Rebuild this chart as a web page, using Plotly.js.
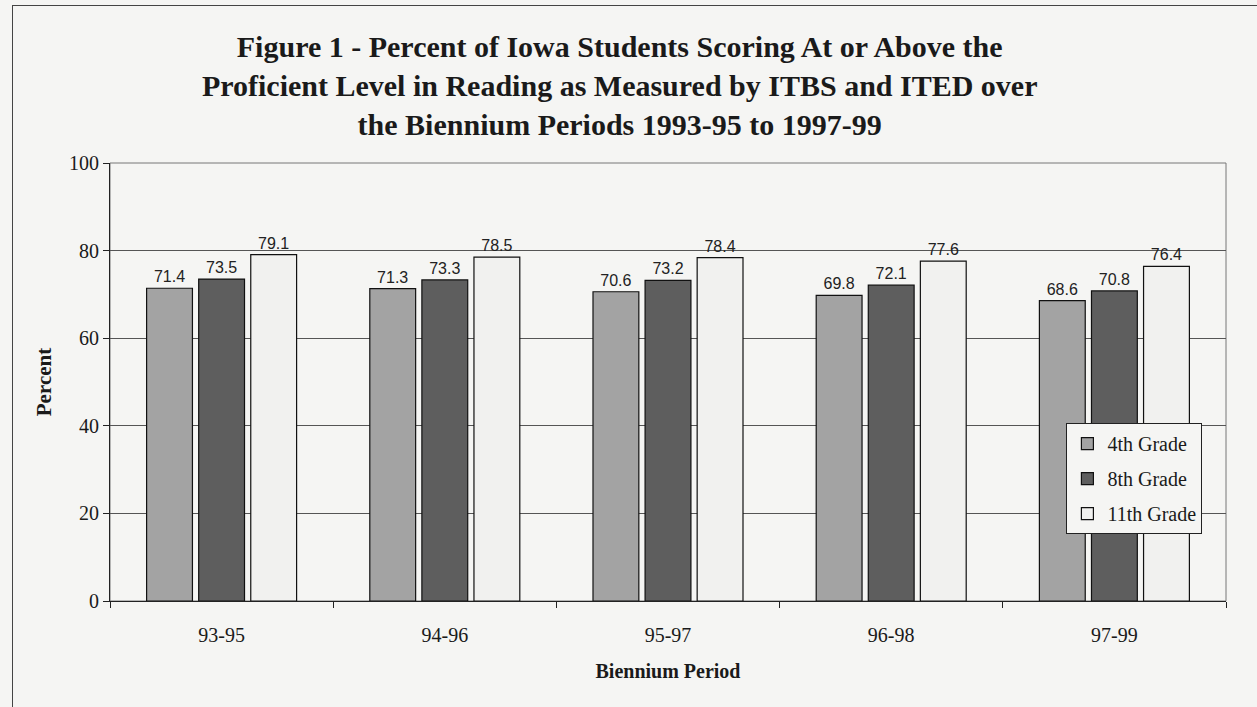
<!DOCTYPE html>
<html>
<head>
<meta charset="utf-8">
<script src="https://cdn.plot.ly/plotly-3.0.1.min.js"></script>
<style>
  body { margin: 0; background: #f5f5f3; overflow: hidden; }
  #frame { position: absolute; left: 12px; top: 5px; width: 1300px; height: 760px; border: 1px solid #444; }
  #chart { position: absolute; left: 0; top: 0; width: 1257px; height: 707px; }
</style>
</head>
<body>
<div id="frame"></div>
<div id="chart"></div>
<script>
const periods = ['93-95', '94-96', '95-97', '96-98', '97-99'];
const grade4 = [71.4, 71.3, 70.6, 69.8, 68.6];
const grade8 = [73.5, 73.3, 73.2, 72.1, 70.8];
const grade11 = [79.1, 78.5, 78.4, 77.6, 76.4];
const seriesNames = ['4th Grade', '8th Grade', '11th Grade'];
const seriesColors = ['#a3a3a3', '#5e5e5e', '#f1f1ef'];

const serif = 'Liberation Serif, Times New Roman';

function bars(name, values, color) {
  return {
    type: 'bar',
    name: name,
    legendgroup: name,
    x: periods,
    y: values,
    text: values.map(v => v.toFixed(1)),
    textposition: 'outside',
    cliponaxis: false,
    textfont: { family: 'Liberation Sans, Arial', size: 16, color: '#222' },
    marker: { color: color, line: { color: '#111', width: 1.2 } }
  };
}

const data = [
  bars(seriesNames[0], grade4, seriesColors[0]),
  bars(seriesNames[1], grade8, seriesColors[1]),
  bars(seriesNames[2], grade11, seriesColors[2])
];

const layout = {
  width: 1257,
  height: 707,
  paper_bgcolor: 'rgba(0,0,0,0)',
  plot_bgcolor: 'rgba(0,0,0,0)',
  margin: { l: 110, r: 31, t: 163, b: 106 },
  font: { family: serif, color: '#1a1a1a' },
  title: {
    text: 'Figure 1 - Percent of Iowa Students Scoring At or Above the<br>Proficient Level in Reading as Measured by ITBS and ITED over<br>the Biennium Periods 1993-95 to 1997-99',
    font: { family: serif, size: 30, color: '#1a1a1a', weight: 'bold' },
    x: 0.493,
    xanchor: 'center',
    y: 0.919,
    yanchor: 'top'
  },
  barmode: 'group',
  bargap: 0.3,
  bargroupgap: 0.12,
  showlegend: true,
  legend: {
    x: 0.857,
    y: 0.406,
    xanchor: 'left',
    yanchor: 'top',
    bgcolor: '#f5f5f3',
    bordercolor: '#222',
    borderwidth: 1,
    font: { family: serif, size: 20, color: '#1a1a1a' },
    tracegroupgap: 6,
    itemwidth: 30
  },
  xaxis: {
    type: 'category',
    showline: true,
    linecolor: '#222',
    linewidth: 1.2,
    ticks: 'outside',
    tickson: 'boundaries',
    ticklen: 6,
    tickcolor: '#222',
    ticklabelstandoff: 16,
    tickfont: { family: serif, size: 20, color: '#1a1a1a' },
    title: {
      text: 'Biennium Period',
      font: { family: serif, size: 20, color: '#1a1a1a', weight: 'bold' },
      standoff: 18
    }
  },
  yaxis: {
    range: [0, 100],
    dtick: 20,
    showline: true,
    linecolor: '#222',
    linewidth: 1.2,
    ticks: 'outside',
    ticklen: 6,
    tickcolor: '#222',
    showgrid: true,
    gridcolor: '#555',
    gridwidth: 1,
    zeroline: false,
    tickfont: { family: serif, size: 20, color: '#1a1a1a' },
    title: {
      text: 'Percent',
      font: { family: serif, size: 21, color: '#1a1a1a', weight: 'bold' },
      standoff: 11
    }
  },
  shapes: [
    {
      type: 'rect', xref: 'paper', yref: 'paper',
      x0: 0, x1: 1, y0: 0, y1: 1,
      line: { color: '#777', width: 1 },
      layer: 'below'
    }
  ]
};

Plotly.newPlot('chart', data, layout, { displayModeBar: false });
</script>
</body>
</html>
